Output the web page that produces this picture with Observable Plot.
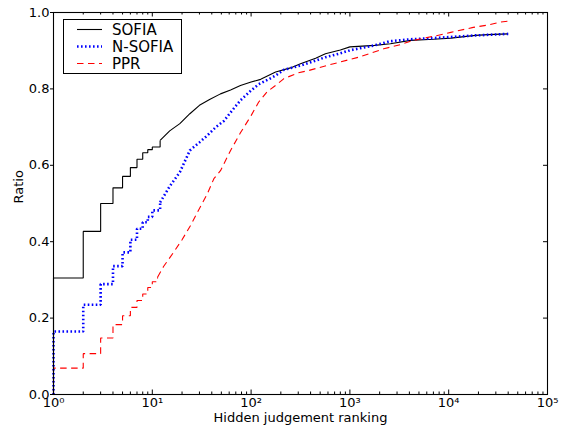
<!DOCTYPE html>
<html>
<head>
<meta charset="utf-8">
<script src="https://cdn.jsdelivr.net/npm/d3@7"></script>
<script src="https://cdn.jsdelivr.net/npm/@observablehq/plot@0.6"></script>
<style>
  html, body { margin: 0; padding: 0; background: #fff; overflow: hidden; }
  #wrap { position: relative; width: 576px; height: 432px; font-family: "DejaVu Sans", sans-serif; }
  #legend { position: absolute; left: 63px; top: 19px; }
</style>
</head>
<body>
<div id="wrap"></div>
<script>
// ---- data ----
const sofiaX = [1, 1, 2, 3, 4, 5, 6, 7, 8, 9, 10, 12, 15, 19, 24, 30, 38, 49, 62, 78, 100, 125, 177, 250, 316, 450, 565, 800, 1000, 1780, 2570, 4100, 7000, 10500, 18700, 25000, 40000];
const sofiaY = [0, 0.305, 0.427, 0.500, 0.541, 0.571, 0.594, 0.616, 0.633, 0.641, 0.648, 0.665, 0.690, 0.709, 0.735, 0.757, 0.772, 0.787, 0.797, 0.809, 0.818, 0.825, 0.844, 0.855, 0.866, 0.880, 0.892, 0.902, 0.910, 0.914, 0.918, 0.927, 0.930, 0.933, 0.940, 0.942, 0.944];

const nsofiaX = [1, 1, 2, 3, 4, 5, 6, 7, 8, 9, 10, 12, 15, 19, 24, 30, 36, 44, 53, 65, 78, 100, 119, 150, 177, 215, 316, 460, 565, 800, 1000, 1780, 2570, 4100, 7000, 10500, 18700, 40000];
const nsofiaY = [0, 0.165, 0.235, 0.289, 0.336, 0.372, 0.405, 0.434, 0.451, 0.465, 0.482, 0.503, 0.545, 0.582, 0.639, 0.660, 0.678, 0.700, 0.716, 0.745, 0.770, 0.796, 0.812, 0.825, 0.835, 0.850, 0.861, 0.875, 0.883, 0.893, 0.901, 0.914, 0.925, 0.930, 0.933, 0.936, 0.940, 0.944];

const pprX = [1, 1, 2, 3, 4, 5, 6, 7, 8, 9, 10, 11.3, 13, 16.4, 20, 24.3, 29, 36, 42, 49, 62, 78, 100, 119, 146, 183, 215, 300, 380, 685, 1230, 2200, 3240, 4400, 7700, 10500, 17700, 24700, 33600, 42000];
const pprY = [0, 0.069, 0.107, 0.148, 0.183, 0.206, 0.228, 0.246, 0.263, 0.280, 0.295, 0.307, 0.335, 0.372, 0.405, 0.442, 0.480, 0.525, 0.565, 0.586, 0.639, 0.685, 0.730, 0.765, 0.793, 0.812, 0.827, 0.842, 0.848, 0.866, 0.883, 0.905, 0.916, 0.927, 0.940, 0.948, 0.961, 0.967, 0.975, 0.978];

const seriesNames = ["SOFIA", "N-SOFIA", "PPR"];
const xMajorTicks = [1, 10, 100, 1000, 10000, 100000];
const xTickLabels = ["10\u2070", "10\u00b9", "10\u00b2", "10\u00b3", "10\u2074", "10\u2075"];
const yTicks = [0, 0.2, 0.4, 0.6, 0.8, 1.0];
const xLabel = "Hidden judgement ranking";
const yLabel = "Ratio";
const stepLimit = 10; // ranks up to here are drawn as visible stairs

// ---- styles ----
const styles = [
  {stroke: "#000000", strokeWidth: 1.1, strokeDasharray: null},
  {stroke: "#0000ff", strokeWidth: 2.6, strokeDasharray: "1.6 2.4"},
  {stroke: "#ff0000", strokeWidth: 1.1, strokeDasharray: "6.5 4.5"}
];

const W = 576, H = 432;
const mL = 53, mR = 29, mT = 12, mB = 38;
const innerW = W - mL - mR, innerH = H - mT - mB;

const toRows = (xs, ys) => xs.map((x, i) => ({x, y: ys[i]}));
const series = [toRows(sofiaX, sofiaY), toRows(nsofiaX, nsofiaY), toRows(pprX, pprY)];

const lineMarks = [];
series.forEach((rows, i) => {
  const k = rows.findIndex(r => r.x > stepLimit);
  const stepRows = rows.slice(0, k + 1);
  const restRows = rows.slice(k);
  const st = {...styles[i], strokeLinecap: "butt", strokeLinejoin: "miter"};
  lineMarks.push(Plot.line(stepRows, {x: "x", y: "y", curve: "step-after", ...st}));
  lineMarks.push(Plot.line(restRows, {x: "x", y: "y", curve: "linear", ...st}));
});

const xMinorTicks = [];
for (const d of xMajorTicks.slice(0, -1)) for (let m = 2; m <= 9; m++) xMinorTicks.push(m * d);
const labelOf = new Map(xMajorTicks.map((t, i) => [t, xTickLabels[i]]));

const chart = Plot.plot({
  width: W, height: H,
  marginLeft: mL, marginRight: mR, marginTop: mT, marginBottom: mB,
  style: {fontFamily: "DejaVu Sans, sans-serif", fontSize: "13px", color: "#000", background: "#fff"},
  x: {type: "log", domain: [1, 1e5]},
  y: {domain: [0, 1]},
  marks: [
    ...lineMarks,
    Plot.frame({stroke: "#000", strokeWidth: 1.1}),
    Plot.tickX(xMajorTicks, {x: d => d, insetTop: innerH - 4.5, stroke: "#000"}),
    Plot.tickX(xMajorTicks, {x: d => d, insetBottom: innerH - 4.5, stroke: "#000"}),
    Plot.tickX(xMinorTicks, {x: d => d, insetTop: innerH - 2.5, stroke: "#000"}),
    Plot.tickX(xMinorTicks, {x: d => d, insetBottom: innerH - 2.5, stroke: "#000"}),
    Plot.tickY(yTicks, {y: d => d, insetLeft: innerW - 4, stroke: "#000"}),
    Plot.axisX(xMajorTicks, {anchor: "bottom", tickSize: 0, tickPadding: 3, tickFormat: d => labelOf.get(d), label: null, fontSize: 13}),
    Plot.axisY(yTicks, {anchor: "left", tickSize: 3, tickPadding: 1, tickFormat: d3.format(".1f"), label: null, fontSize: 13}),
    Plot.text([xLabel], {frameAnchor: "bottom", dy: 27, text: d => d, fontSize: 13}),
    Plot.text([yLabel], {frameAnchor: "left", dx: -35, rotate: -90, text: d => d, fontSize: 13})
  ]
});
document.getElementById("wrap").appendChild(chart);

// ---- legend (inside plot, top-left) ----
const ns = "http://www.w3.org/2000/svg";
const lg = document.createElementNS(ns, "svg");
lg.setAttribute("id", "legend");
lg.setAttribute("width", 119);
lg.setAttribute("height", 55);
const box = document.createElementNS(ns, "rect");
box.setAttribute("x", 0.5); box.setAttribute("y", 0.5);
box.setAttribute("width", 118); box.setAttribute("height", 54);
box.setAttribute("fill", "#fff"); box.setAttribute("stroke", "#000"); box.setAttribute("stroke-width", 1);
lg.appendChild(box);
seriesNames.forEach((name, i) => {
  const cy = 10.5 + i * 17;
  const ln = document.createElementNS(ns, "line");
  ln.setAttribute("x1", 14); ln.setAttribute("x2", 39);
  ln.setAttribute("y1", cy); ln.setAttribute("y2", cy);
  ln.setAttribute("stroke", styles[i].stroke);
  ln.setAttribute("stroke-width", styles[i].strokeWidth);
  ln.setAttribute("stroke-linecap", "butt");
  if (styles[i].strokeDasharray) ln.setAttribute("stroke-dasharray", styles[i].strokeDasharray);
  lg.appendChild(ln);
  const tx = document.createElementNS(ns, "text");
  tx.setAttribute("x", 49); tx.setAttribute("y", cy);
  tx.setAttribute("dominant-baseline", "central");
  tx.setAttribute("font-family", "DejaVu Sans, sans-serif");
  tx.setAttribute("font-size", "15px");
  tx.textContent = name;
  lg.appendChild(tx);
});
document.getElementById("wrap").appendChild(lg);
</script>
</body>
</html>
